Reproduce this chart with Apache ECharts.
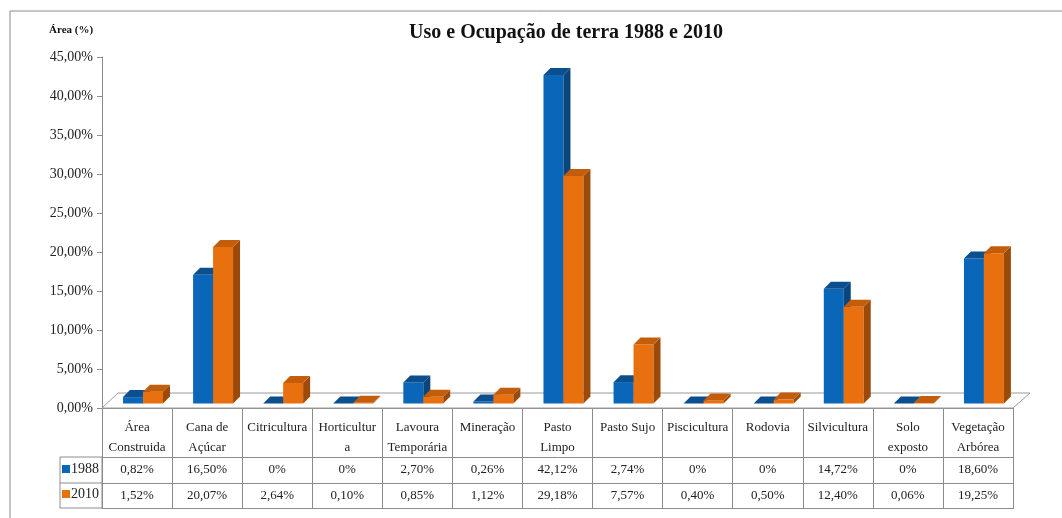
<!DOCTYPE html>
<html>
<head>
<meta charset="utf-8">
<script src="https://cdn.jsdelivr.net/npm/echarts@6/dist/echarts.min.js"></script>
<style>
  html, body { margin: 0; padding: 0; background: #fff; }
  #main { width: 1062px; height: 518px; }
</style>
</head>
<body>
<div id="main"></div>
<script>
// categorias (cabeçalho da tabela)
var categorias = [
  'Área\nConstruida', 'Cana de\nAçúcar', 'Citricultura', 'Horticultur\na',
  'Lavoura\nTemporária', 'Mineração', 'Pasto\nLimpo', 'Pasto Sujo',
  'Piscicultura', 'Rodovia', 'Silvicultura', 'Solo\nexposto', 'Vegetação\nArbórea'
]
// área em %
var valores1988 = [0.82, 16.50, 0, 0, 2.70, 0.26, 42.12, 2.74, 0, 0, 14.72, 0, 18.60]
var valores2010 = [1.52, 20.07, 2.64, 0.10, 0.85, 1.12, 29.18, 7.57, 0.40, 0.50, 12.40, 0.06, 19.25]
var anos = ['1988', '2010']

var fonte = 'Liberation Serif'
var cinza = '#8c8c8c'

function fmtTabela(v) {
  return v === 0 ? '0%' : v.toFixed(2).replace('.', ',') + '%'
}

// barra "3D": face frontal, lateral e topo
function barra3d(pos, cores) {
  return function (params, api) {
    var i = api.value(0)
    var v = api.value(1)
    var base = api.coord([i, 0])
    var topo = api.coord([i, v])
    var banda = api.size([1, 0])[0]
    var w = banda * 0.285
    var x0 = base[0] - banda * 0.2 + pos * w
    var x1 = x0 + w
    var yb = base[1] - 4.5
    var yt = topo[1] - 4.5
    var d = 7
    return {
      type: 'group',
      children: [
        {
          type: 'rect',
          shape: { x: x0, y: yt, width: w, height: yb - yt },
          style: { fill: cores[0] }
        },
        {
          type: 'polygon',
          shape: { points: [[x1, yb], [x1, yt], [x1 + d, yt - d], [x1 + d, yb - d]] },
          style: { fill: cores[2] }
        },
        {
          type: 'polygon',
          shape: { points: [[x0, yt], [x1, yt], [x1 + d, yt - d], [x0 + d, yt - d]] },
          style: { fill: cores[1] }
        }
      ]
    }
  }
}

var myChart = echarts.init(document.getElementById('main'))

var option = {
  animation: false,
  textStyle: { fontFamily: fonte },
  title: [
    {
      text: 'Uso e Ocupação de terra 1988 e 2010',
      left: 561,
      top: 18,
      textAlign: 'center',
      textStyle: { fontFamily: fonte, fontSize: 20, fontWeight: 'bold', color: '#111' }
    },
    {
      text: 'Área (%)',
      left: 44,
      top: 20,
      textStyle: { fontFamily: fonte, fontSize: 11, fontWeight: 'bold', color: '#111' }
    }
  ],
  legend: {
    data: anos,
    orient: 'vertical',
    left: 57,
    top: 457,
    itemGap: 11,
    itemWidth: 8,
    itemHeight: 8,
    icon: 'rect',
    textStyle: { fontFamily: fonte, fontSize: 14, color: '#222', padding: [0, 0, 0, -4] }
  },
  grid: { left: 102, right: 49, top: 57, bottom: 110, containLabel: false },
  xAxis: [
    {
      type: 'category',
      data: categorias,
      position: 'bottom',
      offset: 3,
      axisLine: { show: true, lineStyle: { color: cinza } },
      axisTick: { show: true, interval: 0, length: 101, lineStyle: { color: cinza } },
      axisLabel: {
        interval: 0, margin: 7, lineHeight: 20, verticalAlign: 'top',
        fontFamily: fonte, fontSize: 13, color: '#222'
      }
    },
    {
      type: 'category',
      data: valores1988.map(fmtTabela),
      position: 'bottom',
      offset: 49,
      axisLine: { show: true, lineStyle: { color: cinza } },
      axisTick: { show: false },
      axisLabel: { interval: 0, margin: 6, fontFamily: fonte, fontSize: 13, color: '#222' }
    },
    {
      type: 'category',
      data: valores2010.map(fmtTabela),
      position: 'bottom',
      offset: 75,
      axisLine: { show: true, lineStyle: { color: cinza } },
      axisTick: { show: false },
      axisLabel: { interval: 0, margin: 6, fontFamily: fonte, fontSize: 13, color: '#222' }
    },
    {
      type: 'category',
      data: categorias,
      position: 'bottom',
      offset: 100,
      axisLine: { show: true, lineStyle: { color: cinza } },
      axisTick: { show: false },
      axisLabel: { show: false }
    }
  ],
  yAxis: {
    type: 'value',
    min: 0,
    max: 45,
    interval: 5,
    axisLine: { show: true, lineStyle: { color: cinza } },
    axisTick: { show: true, length: 5, lineStyle: { color: cinza } },
    splitLine: { show: false },
    axisLabel: {
      margin: 9,
      fontFamily: fonte,
      fontSize: 14,
      color: '#222',
      formatter: function (v) { return v.toFixed(2).replace('.', ',') + '%' }
    }
  },
  graphic: [
    // moldura do gráfico
    {
      type: 'rect',
      shape: { x: 10, y: 11, width: 1100, height: 600 },
      style: { fill: 'none', stroke: '#8a8a8a', lineWidth: 1 },
      silent: true
    },
    // coluna da legenda na tabela
    {
      type: 'rect',
      shape: { x: 60, y: 457, width: 42, height: 51 },
      style: { fill: 'none', stroke: cinza, lineWidth: 1 },
      silent: true
    },
    {
      type: 'line',
      shape: { x1: 60, y1: 483, x2: 102, y2: 483 },
      style: { stroke: cinza, lineWidth: 1 },
      silent: true
    }
  ],
  series: [
    {
      name: 'piso',
      type: 'custom',
      silent: true,
      data: [0],
      renderItem: function (params, api) {
        var c = params.coordSys
        var yb = c.y + c.height
        return {
          type: 'polygon',
          shape: {
            points: [[c.x, yb], [c.x + 16, yb - 15], [c.x + c.width + 17, yb - 15], [c.x + c.width, yb]]
          },
          style: { fill: '#fff', stroke: '#9a9a9a', lineWidth: 1 }
        }
      },
      z: 1
    },
    {
      name: '1988',
      type: 'custom',
      itemStyle: { color: '#0A66B8' },
      data: valores1988.map(function (v, i) { return [i, v] }),
      encode: { x: 0, y: 1 },
      renderItem: barra3d(0, ['#0A66B8', '#0B4F8E', '#0A457C']),
      z: 2
    },
    {
      name: '2010',
      type: 'custom',
      itemStyle: { color: '#E8700F' },
      data: valores2010.map(function (v, i) { return [i, v] }),
      encode: { x: 0, y: 1 },
      renderItem: barra3d(1, ['#E8700F', '#C45D0A', '#9C4A0A']),
      z: 3
    }
  ]
}

myChart.setOption(option)
</script>
</body>
</html>
